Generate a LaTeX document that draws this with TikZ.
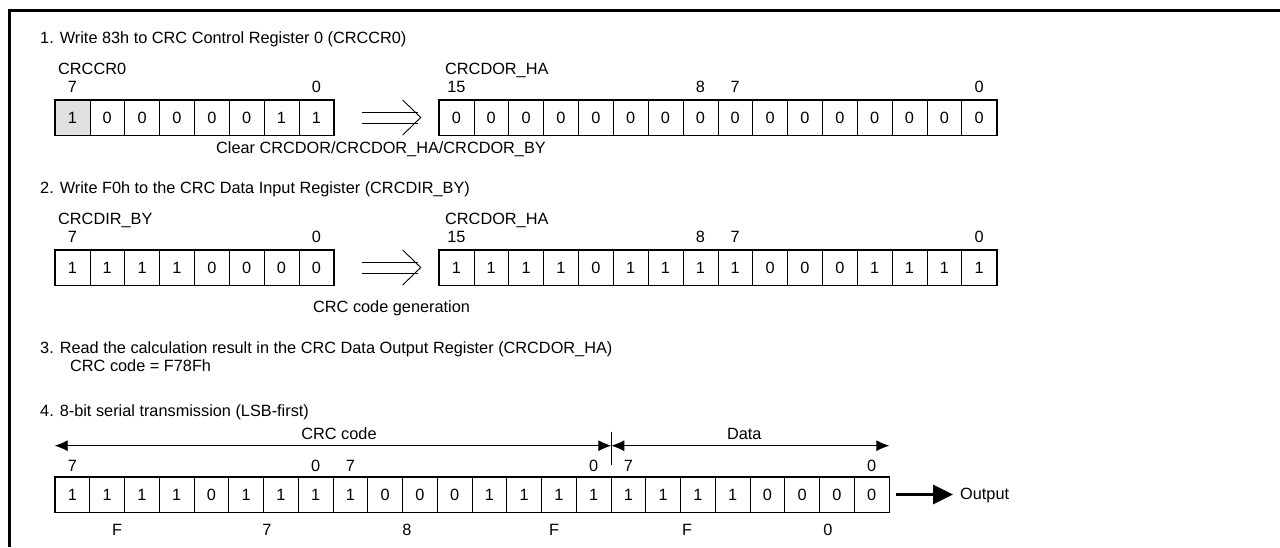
\documentclass[tikz,border=0pt]{standalone}
\usepackage{fontspec}
\setmainfont{Liberation Sans}
\usetikzlibrary{arrows.meta,calc}
\newcommand\myfs{\fontsize{16.3}{19}\selectfont}
\tikzset{
  cell/.style={draw, line width=0.6pt, minimum width=34.85pt, minimum height=35pt, inner sep=0pt, font=\myfs},
  cellb/.style={cell, minimum width=34.75pt},
  txt/.style={inner sep=0pt, anchor=base west, font=\myfs},
  lbl/.style={inner sep=0pt, anchor=base, font=\myfs},
  outer/.style={line width=1.3pt},
  thinline/.style={line width=0.9pt},
}
\begin{document}
\begin{tikzpicture}[x=1pt,y=-1pt]
\useasboundingbox (0,0) rectangle (1280,547);
% frame
\draw[line width=3pt] (9,547) -- (9,10) -- (1280,10);

% ---------- Step 1 ----------
\node[txt] (t1) at (40,43) {1. Write 83h to CRC Control Register 0 (CRCCR0)};
\node[txt] (n1a) at (58,74) {CRCCR0};
\node[txt] (n1b) at (445,74) {CRCDOR\_HA};
\fill[black!12] (55,100) rectangle ++(34.85,35);
\foreach \b [count=\i from 0] in {1,0,0,0,0,0,1,1}
  \node[cell] (ra\i) at ({55+34.85*(\i+0.5)},117.5) {\b};
\draw[outer] (ra0.north west) rectangle (ra7.south east);
\node[lbl] (ra-l7) at ($(ra0.north)+(0,-7)$) {7};
\node[lbl] (ra-l0) at ($(ra7.north)+(0,-7)$) {0};
\foreach \b [count=\i from 0] in {0,0,0,0,0,0,0,0,0,0,0,0,0,0,0,0}
  \node[cell] (rb\i) at ({439+34.85*(\i+0.5)},117.5) {\b};
\draw[outer] (rb0.north west) rectangle (rb15.south east);
\node[lbl] (rb-l15) at ($(rb0.north)+(0,-7)$) {15};
\node[lbl] (rb-l8) at ($(rb7.north)+(0,-7)$) {8};
\node[lbl] (rb-l7) at ($(rb8.north)+(0,-7)$) {7};
\node[lbl] (rb-l0) at ($(rb15.north)+(0,-7)$) {0};
% hollow arrow
\draw[thinline] ($(ra7.east)+(28,-5.5)$) -- ($(rb0.west)+(-21,-5.5)$);
\draw[thinline] ($(ra7.east)+(28,5.5)$) -- ($(rb0.west)+(-21,5.5)$);
\draw[thinline] ($(rb0.west)+(-36,-17.5)$) -- ($(rb0.west)+(-18,0)$) -- ($(rb0.west)+(-36,17.5)$);
\node[txt] (c1) at (216,153) {Clear CRCDOR/CRCDOR\_HA/CRCDOR\_BY};

% ---------- Step 2 ----------
\node[txt] (t2) at (40,193) {2. Write F0h to the CRC Data Input Register (CRCDIR\_BY)};
\node[txt] (n2a) at (58,224) {CRCDIR\_BY};
\node[txt] (n2b) at (445,224) {CRCDOR\_HA};
\foreach \b [count=\i from 0] in {1,1,1,1,0,0,0,0}
  \node[cell] (sa\i) at ({55+34.85*(\i+0.5)},267.5) {\b};
\draw[outer] (sa0.north west) rectangle (sa7.south east);
\node[lbl] (sa-l7) at ($(sa0.north)+(0,-7)$) {7};
\node[lbl] (sa-l0) at ($(sa7.north)+(0,-7)$) {0};
\foreach \b [count=\i from 0] in {1,1,1,1,0,1,1,1,1,0,0,0,1,1,1,1}
  \node[cell] (sb\i) at ({439+34.85*(\i+0.5)},267.5) {\b};
\draw[outer] (sb0.north west) rectangle (sb15.south east);
\node[lbl] (sb-l15) at ($(sb0.north)+(0,-7)$) {15};
\node[lbl] (sb-l8) at ($(sb7.north)+(0,-7)$) {8};
\node[lbl] (sb-l7) at ($(sb8.north)+(0,-7)$) {7};
\node[lbl] (sb-l0) at ($(sb15.north)+(0,-7)$) {0};
\draw[thinline] ($(sa7.east)+(28,-5.5)$) -- ($(sb0.west)+(-21,-5.5)$);
\draw[thinline] ($(sa7.east)+(28,5.5)$) -- ($(sb0.west)+(-21,5.5)$);
\draw[thinline] ($(sb0.west)+(-36,-17.5)$) -- ($(sb0.west)+(-18,0)$) -- ($(sb0.west)+(-36,17.5)$);
\node[txt] (c2) at (313,312) {CRC code generation};

% ---------- Step 3 ----------
\node[txt] (t3) at (40,353) {3. Read the calculation result in the CRC Data Output Register (CRCDOR\_HA)};
\node[txt] (t3b) at (70,371) {CRC code = F78Fh};

% ---------- Step 4 ----------
\node[txt] (t4) at (40,416) {4. 8-bit serial transmission (LSB-first)};
\foreach \b [count=\i from 0] in {1,1,1,1,0,1,1,1,1,0,0,0,1,1,1,1,1,1,1,1,0,0,0,0}
  \node[cellb] (rc\i) at ({55+34.75*(\i+0.5)},494.5) {\b};
\draw[outer] (rc0.north west) rectangle (rc23.south east);
\draw[outer] (rc7.north east) -- (rc7.south east);
\draw[outer] (rc15.north east) -- (rc15.south east);
\node[lbl] (rc-a7) at ($(rc0.north)+(0,-5)$) {7};
\node[lbl] (rc-a0) at ($(rc7.north)+(0,-5)$) {0};
\node[lbl] (rc-b7) at ($(rc8.north)+(0,-5)$) {7};
\node[lbl] (rc-b0) at ($(rc15.north)+(0,-5)$) {0};
\node[lbl] (rc-c7) at ($(rc16.north)+(0,-5)$) {7};
\node[lbl] (rc-c0) at ($(rc23.north)+(0,-5)$) {0};
\coordinate (k0) at ($(rc0.north west)+(0,-31)$);
\coordinate (k1) at ($(rc15.north east)+(0,-31)$);
\coordinate (k2) at ($(rc23.north east)+(0,-31)$);
\draw[thinline, {Latex[length=13pt,width=11pt]}-{Latex[length=13pt,width=11pt]}] (k0) -- (k1);
\draw[thinline, {Latex[length=13pt,width=11pt]}-{Latex[length=13pt,width=11pt]}] (k1) -- (k2);
\draw[thinline] ($(k1)+(0,-14)$) -- ($(k1)+(0,19)$);
\node[lbl] (crc) at ($(k0)!0.5!(k1)+(6,-6)$) {CRC code};
\node[lbl] (dat) at ($(k1)!0.5!(k2)+(-6,-6)$) {Data};
\node[txt] (out) at (960,499) {Output};
\draw[line width=3pt, -{Triangle[length=20pt,width=19pt]}, shorten <=7pt, shorten >=7pt] (rc23.east) -- (rc23.east -| out.west);
\node[lbl] (h1) at (117,535) {F};
\node[lbl] (h2) at (267,535) {7};
\node[lbl] (h3) at (407,535) {8};
\node[lbl] (h4) at (554,535) {F};
\node[lbl] (h5) at (687,535) {F};
\node[lbl] (h6) at (828,535) {0};
\end{tikzpicture}
\end{document}
